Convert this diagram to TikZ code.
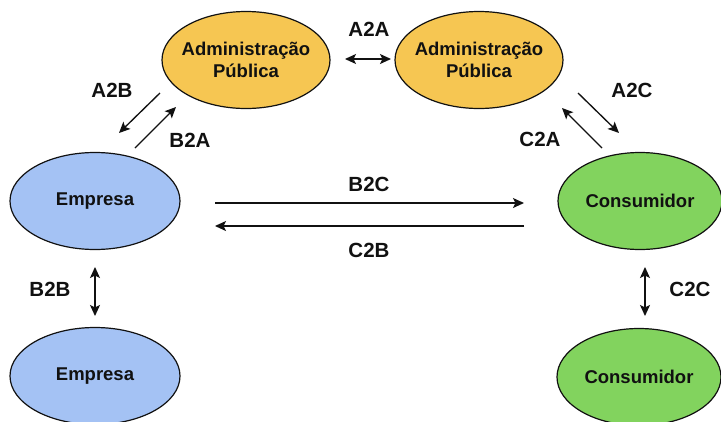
\documentclass[tikz,border=0pt]{standalone}
\usepackage{fontspec}
\setmainfont{Liberation Sans}
\usetikzlibrary{shapes.geometric,arrows.meta}

\definecolor{adminfill}{HTML}{F6C652}
\definecolor{empfill}{HTML}{A4C2F4}
\definecolor{consfill}{HTML}{82D35E}
\definecolor{ink}{HTML}{111111}

\tikzset{
  actor/.style={ellipse, draw=ink, line width=1.2pt, inner sep=0pt,
    minimum width=168pt, minimum height=97pt},
  actortext/.style={font=\fontsize{18.5}{22.5}\selectfont\bfseries, text=ink, align=center},
  flow/.style={draw=ink, line width=1.35pt, -{Stealth[length=11pt,width=10pt,inset=2.5pt]}},
  bothflow/.style={draw=ink, line width=1.35pt, {Stealth[length=11pt,width=10pt,inset=2.5pt]}-{Stealth[length=11pt,width=10pt,inset=2.5pt]}},
  flowlabel/.style={font=\fontsize{20.5}{22}\selectfont\bfseries, text=ink, inner sep=0pt}
}

\begin{document}
\begin{tikzpicture}[x=1pt,y=-1pt]
\useasboundingbox[fill=white] (0,0) rectangle (721,421);

% actors
\node[actor, fill=adminfill] (adminL) at (246,60) {};
\node[actortext] (adminLt) at (adminL.center) {Administração\\Pública};
\node[actor, fill=adminfill] (adminR) at (479,60) {};
\node[actortext] (adminRt) at (adminR.center) {Administração\\Pública};
\node[actor, fill=empfill, minimum width=170pt] (empA) at (95,201) {};
\node[actortext] (empAt) at (empA.center) {Empresa};
\node[actor, fill=empfill, minimum width=170pt] (empB) at (95,376) {};
\node[actortext] (empBt) at (empB.center) {Empresa};
\node[actor, fill=consfill, minimum width=164pt] (consA) at (640,201) {};
\node[actortext] (consAt) at (consA.center) {Consumidor};
\node[actor, fill=consfill, minimum width=164pt] (consB) at (639,377) {};
\node[actortext] (consBt) at (consB.center) {Consumidor};

% arrow end points
\coordinate (aaL) at (345,59);
\coordinate (aaR) at (391,59);
\coordinate (abS) at (160,93);
\coordinate (abE) at (119,133);
\coordinate (baS) at (135,148);
\coordinate (baE) at (176,107);
\coordinate (acS) at (578,93);
\coordinate (acE) at (619,133);
\coordinate (caS) at (602,148);
\coordinate (caE) at (562,108);
\coordinate (bcS) at (215,203);
\coordinate (bcE) at (524,203);
\coordinate (cbS) at (524,226);
\coordinate (cbE) at (215,226);
\coordinate (bbT) at (95,267);
\coordinate (bbB) at (95,316);
\coordinate (ccT) at (645,267);
\coordinate (ccB) at (645,316);

% connectors
\draw[bothflow] (aaL) -- (aaR);
\draw[flow] (abS) -- (abE);
\draw[flow] (baS) -- (baE);
\draw[flow] (acS) -- (acE);
\draw[flow] (caS) -- (caE);
\draw[flow] (bcS) -- (bcE);
\draw[flow] (cbS) -- (cbE);
\draw[bothflow] (bbT) -- (bbB);
\draw[bothflow] (ccT) -- (ccB);

% labels
\node[flowlabel] (lAA) at (369,29) {A2A};
\node[flowlabel] (lAB) at (112,90) {A2B};
\node[flowlabel] (lBA) at (190,140) {B2A};
\node[flowlabel] (lAC) at (632,90) {A2C};
\node[flowlabel] (lCA) at (540,139) {C2A};
\node[flowlabel] (lBC) at (369,184) {B2C};
\node[flowlabel] (lCB) at (369,250) {C2B};
\node[flowlabel] (lBB) at (50,289) {B2B};
\node[flowlabel] (lCC) at (690,289) {C2C};
\end{tikzpicture}
\end{document}
